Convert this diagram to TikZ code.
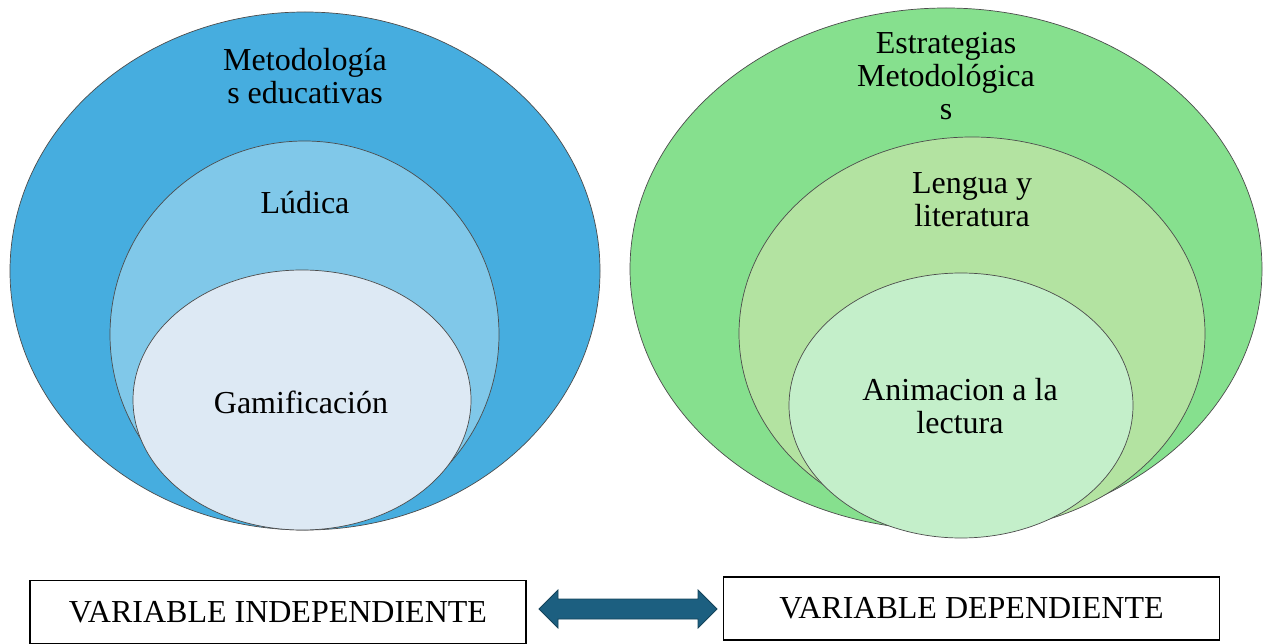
\documentclass[tikz,border=0pt]{standalone}
\usepackage{fontspec}
\setmainfont{Liberation Serif}
\begin{document}
\begin{tikzpicture}[x=1pt,y=-1pt,
  ell/.style={draw=black!70, line width=0.7pt},
  lbl/.style={align=center, font=\fontsize{32}{33}\selectfont, text=black},
  varbox/.style={draw=black, line width=1.3pt, fill=white, minimum width=496pt, minimum height=63pt, font=\fontsize{32}{33}\selectfont, inner sep=0pt}]
\useasboundingbox (0,0) rectangle (1266,644);
\definecolor{louter}{HTML}{46ADDF}
\definecolor{lmid}{HTML}{80C8E9}
\definecolor{linner}{HTML}{DDE9F4}
\definecolor{router}{HTML}{86E08E}
\definecolor{rmid}{HTML}{B3E3A1}
\definecolor{rinner}{HTML}{C4EFCA}
\definecolor{arrowc}{HTML}{1C5F80}
% left set
\draw[ell, fill=louter] (305,271) ellipse [x radius=295, y radius=259];
\draw[ell, fill=lmid] (304.5,334.5) ellipse [x radius=194.5, y radius=193.5];
\draw[ell, fill=linner] (302,400) ellipse [x radius=169, y radius=130];
\node[lbl] (metod) at (305,76) {Metodología\\s educativas};
\node[lbl] (ludica) at (305,203) {Lúdica};
\node[lbl] (gamif) at (301,402) {Gamificación};
% right set
\draw[ell, fill=router] (946,269) ellipse [x radius=316, y radius=261];
\draw[ell, fill=rmid] (972,333.5) ellipse [x radius=233, y radius=196.5];
\draw[ell, fill=rinner] (961,405.5) ellipse [x radius=172, y radius=132.5];
\node[lbl] (estr) at (946,76) {Estrategias\\Metodológica\\s};
\node[lbl] (lengua) at (972,200) {Lengua y\\literatura};
\node[lbl] (anim) at (960,406) {Animacion a la\\lectura};
% boxes
\node[varbox] (vi) at (278,612) {VARIABLE INDEPENDIENTE};
\node[varbox] (vd) at (971.5,608.5) {VARIABLE DEPENDIENTE};
% double arrow
\draw[draw=arrowc!70!black, line width=0.8pt, fill=arrowc]
  (539,609) -- (558,590) -- (558,599) -- (698,599) -- (698,590) -- (717,609)
  -- (698,628) -- (698,619) -- (558,619) -- (558,628) -- cycle;
\end{tikzpicture}
\end{document}
